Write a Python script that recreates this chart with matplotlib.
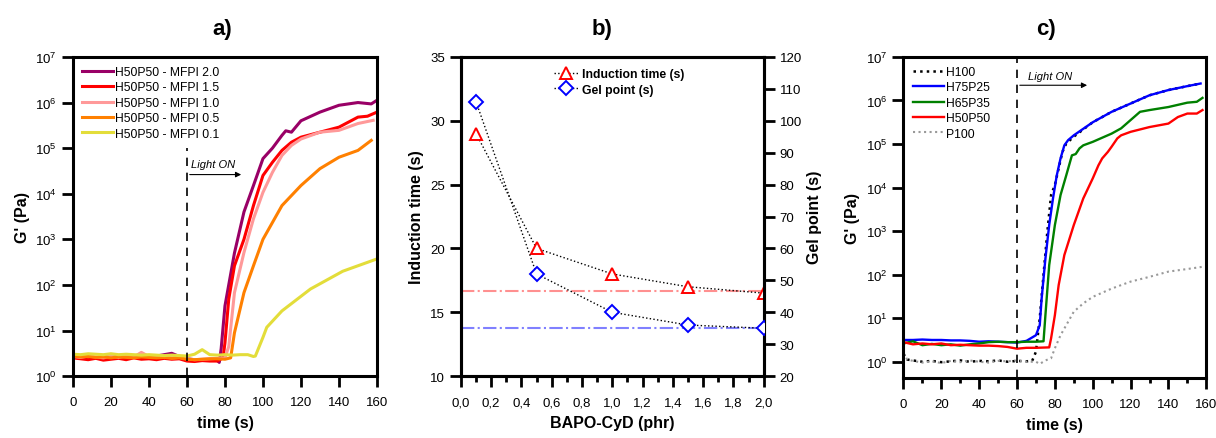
import numpy as np
import matplotlib
matplotlib.use('Agg')
import matplotlib.pyplot as plt
from matplotlib.ticker import MultipleLocator, NullLocator, FuncFormatter, FixedLocator

plt.rcParams['font.family'] = ['Liberation Sans', 'DejaVu Sans']

# ---- panel a : G' vs time, different MFPI contents (log10 of G') ----
t_base = [0, 4, 8, 12, 16, 20, 24, 28, 32, 36, 40, 44, 48, 52, 56, 60, 64, 68, 72, 76]

a20_t = t_base + [77, 78, 80, 85, 90, 95, 100, 105, 110, 112, 115, 120, 130, 140, 150, 157, 160]
a20_y = [0.45, 0.42, 0.44, 0.40, 0.43, 0.41, 0.44, 0.42, 0.45, 0.43, 0.42, 0.44, 0.47, 0.50, 0.43,
         0.38, 0.36, 0.35, 0.36, 0.34, 0.30, 0.60, 1.54, 2.70, 3.60, 4.18, 4.77, 5.00, 5.28, 5.38,
         5.35, 5.60, 5.79, 5.94, 6.00, 5.97, 6.05]

a15_t = t_base + [79, 80, 82, 85, 90, 95, 100, 105, 110, 115, 120, 130, 140, 145, 150, 155, 160]
a15_y = [0.40, 0.38, 0.36, 0.39, 0.35, 0.37, 0.39, 0.36, 0.40, 0.37, 0.38, 0.36, 0.39, 0.37, 0.38,
         0.33, 0.32, 0.34, 0.33, 0.33, 0.40, 0.73, 1.69, 2.42, 3.00, 3.74, 4.40, 4.69, 4.95, 5.13,
         5.24, 5.35, 5.46, 5.57, 5.68, 5.70, 5.79]

a10_t = t_base + [80, 82, 85, 90, 95, 100, 105, 110, 115, 120, 130, 140, 150, 158]
a10_y = [0.43, 0.41, 0.44, 0.42, 0.40, 0.43, 0.41, 0.44, 0.42, 0.52, 0.43, 0.41, 0.42, 0.40, 0.41,
         0.38, 0.36, 0.37, 0.38, 0.39, 0.40, 0.65, 1.83, 2.71, 3.45, 4.03, 4.47, 4.84, 5.06, 5.20,
         5.35, 5.39, 5.54, 5.61]

a05_t = t_base + [80, 83, 85, 90, 95, 100, 110, 120, 130, 140, 150, 157]
a05_y = [0.44, 0.42, 0.43, 0.41, 0.42, 0.40, 0.42, 0.41, 0.40, 0.42, 0.41, 0.40, 0.41, 0.39, 0.40,
         0.37, 0.36, 0.37, 0.38, 0.38, 0.37, 0.40, 0.95, 1.83, 2.42, 3.00, 3.74, 4.18, 4.55, 4.80,
         4.95, 5.17]

a01_t = t_base + [80, 84, 88, 92, 95, 96, 100, 102, 110, 125, 142, 160]
a01_y = [0.48, 0.47, 0.49, 0.48, 0.47, 0.49, 0.47, 0.48, 0.47, 0.46, 0.47, 0.46, 0.45, 0.46, 0.45,
         0.44, 0.48, 0.58, 0.47, 0.46, 0.47, 0.46, 0.47, 0.47, 0.43, 0.44, 0.85, 1.07, 1.43, 1.91,
         2.30, 2.57]

a_labels = ['H50P50 - MFPI 2.0', 'H50P50 - MFPI 1.5', 'H50P50 - MFPI 1.0',
            'H50P50 - MFPI 0.5', 'H50P50 - MFPI 0.1']
a_colors = ['#990066', '#ff0000', '#ff9999', '#ff8000', '#e3dd3a']

# ---- panel b : induction time and gel point vs BAPO-CyD ----
bapo = [0.1, 0.5, 1.0, 1.5, 2.0]
induction = [29, 20, 18, 17, 16.5]
gel_point = [106, 52, 40, 36, 35]
induction_ref = 16.65
gel_ref = 35

# ---- panel c : G' vs time, different H/P ratios (log10 of G') ----
c_base_t = [0, 5, 10, 15, 20, 25, 30, 35, 40, 45, 50, 55, 60, 65]

h100_t = [0, 2] + c_base_t[1:] + [68, 70, 72, 74, 76, 78, 80, 82, 84, 86, 90, 100, 110, 120, 130, 140, 150, 157]
h100_y = [0.18, 0.05, 0.03, 0.00, 0.02, -0.01, 0.01, 0.03, 0.00, 0.02, 0.01, 0.03, 0.00, 0.02,
          0.01, 0.02, 0.23, 1.00, 2.00, 2.98, 3.83, 4.06, 4.44, 4.82, 5.01, 5.17, 5.50, 5.74,
          5.93, 6.12, 6.24, 6.33, 6.39]

h75_t = c_base_t + [70, 72, 73, 75, 77, 79, 81, 83, 85, 87, 90, 100, 110, 120, 130, 140, 150, 157]
h75_y = [0.50, 0.50, 0.51, 0.50, 0.50, 0.49, 0.49, 0.48, 0.46, 0.47, 0.46, 0.45, 0.44, 0.48,
         0.61, 0.84, 1.45, 2.37, 3.14, 3.75, 4.28, 4.67, 4.97, 5.09, 5.20, 5.50, 5.74, 5.93,
         6.12, 6.24, 6.33, 6.39]

h65_t = c_base_t + [70, 74, 75, 77, 80, 83, 86, 89, 91, 93, 95, 100, 110, 115, 120, 125, 130, 140, 150, 155, 158]
h65_y = [0.42, 0.47, 0.38, 0.41, 0.38, 0.40, 0.37, 0.40, 0.42, 0.45, 0.46, 0.45, 0.45, 0.46,
         0.46, 0.47, 1.07, 2.22, 3.14, 3.83, 4.28, 4.74, 4.77, 4.90, 4.97, 5.05, 5.24, 5.36,
         5.55, 5.74, 5.78, 5.85, 5.95, 5.97, 6.06]

h50_t = c_base_t + [70, 77, 78, 80, 82, 85, 90, 95, 100, 103, 105, 108, 110, 113, 115, 120, 130, 140, 145, 150, 155, 158]
h50_y = [0.45, 0.40, 0.42, 0.40, 0.42, 0.38, 0.39, 0.38, 0.37, 0.37, 0.36, 0.34, 0.30, 0.32,
         0.32, 0.33, 0.54, 1.07, 1.76, 2.45, 3.14, 3.75, 4.21, 4.51, 4.67, 4.82, 4.94, 5.13,
         5.20, 5.28, 5.39, 5.47, 5.62, 5.70, 5.70, 5.78]

p100_t = [0, 2] + c_base_t[1:] + [70, 72, 75, 78, 80, 83, 86, 90, 95, 100, 110, 120, 130, 140, 150, 158]
p100_y = [0.20, 0.05, 0.02, -0.02, 0.01, -0.03, 0.02, -0.01, 0.03, 0.00, -0.02, 0.02, 0.01,
          0.03, 0.00, 0.00, -0.05, 0.03, 0.08, 0.31, 0.61, 0.84, 1.15, 1.34, 1.49, 1.68, 1.84,
          1.95, 2.07, 2.13, 2.18]

c_labels = ['H100', 'H75P25', 'H65P35', 'H50P50', 'P100']

decades = [1e0, 1e1, 1e2, 1e3, 1e4, 1e5, 1e6, 1e7]

SPINE = 2.2
LEG = dict(loc='upper left', frameon=False, fontsize=8.7, handlelength=2.6,
           handletextpad=0.15, labelspacing=0.28, borderaxespad=0.35, borderpad=0.4)


def style_log(ax, ymin):
    ax.set_yscale('log')
    ax.set_ylim(ymin, 1e7)
    ax.set_xlim(0, 160)
    ax.yaxis.set_major_locator(FixedLocator(decades))
    ax.yaxis.set_minor_locator(NullLocator())
    ax.xaxis.set_major_locator(MultipleLocator(20))
    for s in ax.spines.values():
        s.set_linewidth(SPINE)
    ax.tick_params(which='major', direction='out', length=8, width=2, labelsize=9.5)
    ax.tick_params(axis='x', which='major', pad=6.5)
    ax.tick_params(which='minor', direction='out', length=3.5, width=2)
    ax.set_xlabel('time (s)', fontsize=11.5, fontweight='bold', labelpad=5)
    ax.set_ylabel("G' (Pa)", fontsize=11.5, fontweight='bold')


fig = plt.figure(figsize=(12.16, 4.39), dpi=100)

# 图 a
ax1 = fig.add_axes([0.060, 0.141, 0.250, 0.727])
series_a = [(a20_t, a20_y), (a15_t, a15_y), (a10_t, a10_y), (a05_t, a05_y), (a01_t, a01_y)]
for (tt, yy), lab, col in zip(series_a, a_labels, a_colors):
    ax1.plot(tt, np.power(10.0, yy), color=col, lw=2.2, label=lab)
style_log(ax1, 1)
ax1.plot([60, 60], [1, 1e5], color='black', ls=(0, (5, 4)), lw=1.2)
ax1.annotate('', xy=(90, 10**4.42), xytext=(60, 10**4.42),
             arrowprops=dict(arrowstyle='-|>', color='black', lw=0.8, mutation_scale=8))
ax1.text(62, 10**4.58, 'Light ON', fontsize=8, style='italic')
ax1.legend(**LEG)

# 图 b
ax2 = fig.add_axes([0.379, 0.141, 0.249, 0.727])
ax3 = ax2.twinx()
ax2.axhline(induction_ref, color='#ff9090', ls='-.', lw=1.5)
ax2.axhline((gel_ref - 20) / 4 + 10, color='#8080ff', ls='-.', lw=1.5)
ax2.plot(bapo, induction, color='black', ls=':', lw=1, marker='^', ms=8,
         mfc='white', mec='red', mew=1.4, label='Induction time (s)', zorder=5)
ax3.plot(bapo, gel_point, color='black', ls=':', lw=1, marker='D', ms=7,
         mfc='white', mec='blue', mew=1.4, label='Gel point (s)', zorder=5)
ax2.set_xlim(0, 2.0)
ax2.set_ylim(10, 35)
ax3.set_ylim(20, 120)
ax2.xaxis.set_major_locator(MultipleLocator(0.2))
ax2.xaxis.set_minor_locator(MultipleLocator(0.1))
ax2.yaxis.set_major_locator(MultipleLocator(5))
ax3.yaxis.set_major_locator(MultipleLocator(10))
ax2.xaxis.set_major_formatter(FuncFormatter(lambda v, p: ('%.1f' % v).replace('.', ',')))
for a in (ax2, ax3):
    for s in a.spines.values():
        s.set_linewidth(SPINE)
    a.tick_params(which='major', direction='out', length=8, width=2, labelsize=9.5)
    a.tick_params(which='minor', direction='out', length=4, width=2)
ax2.tick_params(axis='x', which='major', pad=6.5)
ax2.set_xlabel('BAPO-CyD (phr)', fontsize=11.5, fontweight='bold', labelpad=5)
ax2.set_ylabel('Induction time (s)', fontsize=11.5, fontweight='bold')
ax3.set_ylabel('Gel point (s)', fontsize=11.5, fontweight='bold')
h1, l1 = ax2.get_legend_handles_labels()
h2, l2 = ax3.get_legend_handles_labels()
ax2.legend(h1 + h2, l1 + l2, loc='upper left', bbox_to_anchor=(0.272, 1.0), frameon=False,
           prop={'weight': 'bold', 'size': 8.8}, handlelength=2.0,
           handletextpad=0.3, labelspacing=0.3)

# 图 c
ax4 = fig.add_axes([0.743, 0.137, 0.249, 0.731])
ax4.plot(h100_t, np.power(10.0, h100_y), color='black', ls=':', lw=1.8, label=c_labels[0])
ax4.plot(h75_t, np.power(10.0, h75_y), color='#0000ff', lw=1.7, label=c_labels[1])
ax4.plot(h65_t, np.power(10.0, h65_y), color='#008000', lw=1.7, label=c_labels[2])
ax4.plot(h50_t, np.power(10.0, h50_y), color='#ff0000', lw=1.7, label=c_labels[3])
ax4.plot(p100_t, np.power(10.0, p100_y), color='#999999', ls=':', lw=1.5, label=c_labels[4])
style_log(ax4, 10**-0.37)
ax4.xaxis.set_minor_locator(MultipleLocator(10))
ax4.axvline(60, color='black', ls=(0, (5, 4)), lw=1.2)
ax4.annotate('', xy=(98.5, 10**6.35), xytext=(60, 10**6.35),
             arrowprops=dict(arrowstyle='-|>', color='black', lw=0.8, mutation_scale=8))
ax4.text(66, 10**6.5, 'Light ON', fontsize=8, style='italic')
ax4.legend(**LEG)

for x, s in [(0.183, 'a)'), (0.495, 'b)'), (0.860, 'c)')]:
    fig.text(x, 0.932, s, fontsize=16, fontweight='bold', ha='center', va='center')

fig.savefig('out.png', dpi=100)
